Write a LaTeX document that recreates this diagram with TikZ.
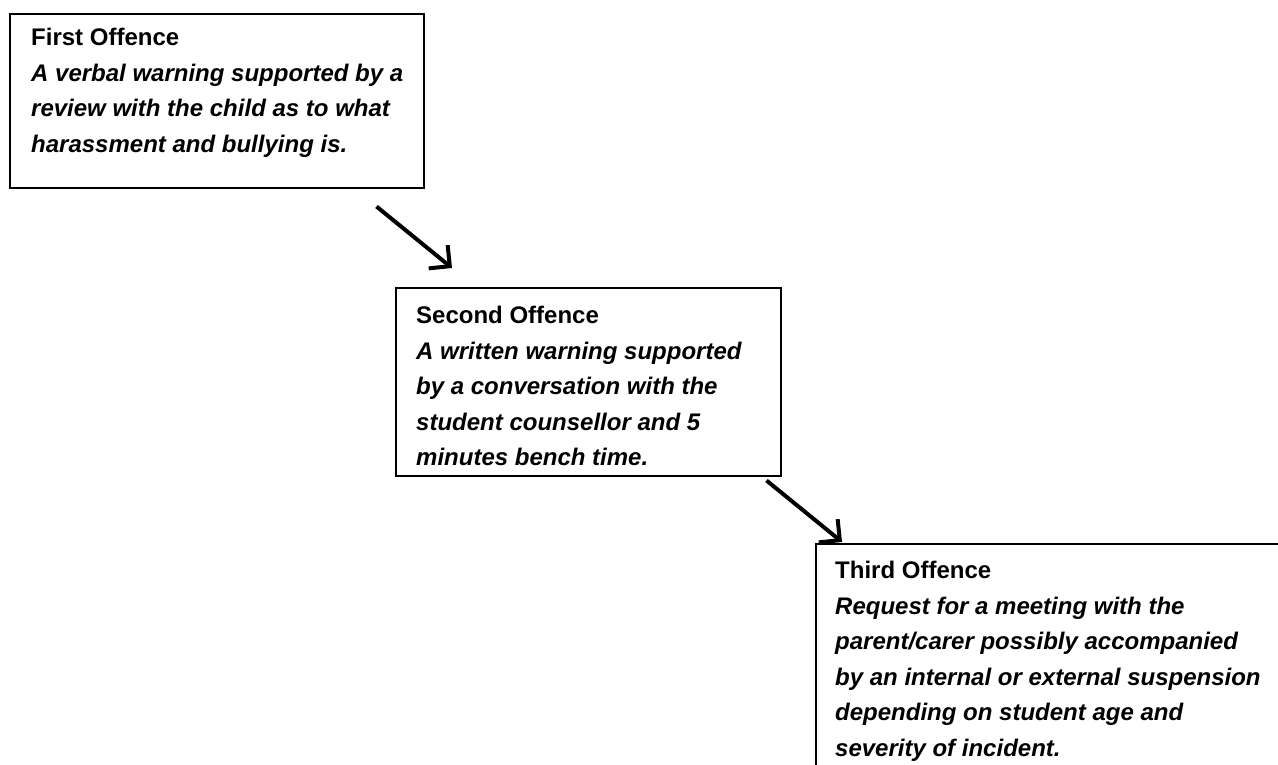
\documentclass[tikz,border=0pt]{standalone}
\usepackage{fontspec}
\setmainfont{Liberation Sans}
\usetikzlibrary{arrows.meta}
\begin{document}
\begin{tikzpicture}[x=1pt,y=-1pt,
  box/.style 2 args={draw,line width=1.5pt,anchor=north west,inner sep=0pt,
    minimum width=#1,minimum height=#2},
  txt/.style={anchor=north west,inner sep=0pt,align=left,
    font=\fontsize{24}{35.5}\selectfont\bfseries\itshape},
  arr/.style={line width=4pt,-{Straight Barb[length=15pt,width=30pt]}}]
  \useasboundingbox (0,0) rectangle (1278,764);
  % offence boxes
  \node[box={414pt}{174pt}] (first) at (9,13) {};
  \node[box={385pt}{188pt}] (second) at (395,287) {};
  \node[box={480pt}{240pt}] (third) at (815,543) {};
  \node[txt] (firsttxt) at ([shift={(22,15)}]first.north west)
    {{\upshape First Offence}\\A verbal warning supported by a\\
     review with the child as to what\\harassment and bullying is.};
  \node[txt] (secondtxt) at ([shift={(21,19)}]second.north west)
    {{\upshape Second Offence}\\A written warning supported\\
     by a conversation with the\\student counsellor and 5\\minutes bench time.};
  \node[txt] (thirdtxt) at ([shift={(20,18)}]third.north west)
    {{\upshape Third Offence}\\Request for a meeting with the\\
     parent/carer possibly accompanied\\by an internal or external suspension\\
     depending on student age and\\severity of incident.};
  % steps
  \draw[arr] ([shift={(-48,18)}]first.south east) -- ([shift={(57,-19)}]second.north west);
  \draw[arr] ([shift={(-15,4)}]second.south east) -- ([shift={(27,-1)}]third.north west);
\end{tikzpicture}
\end{document}
